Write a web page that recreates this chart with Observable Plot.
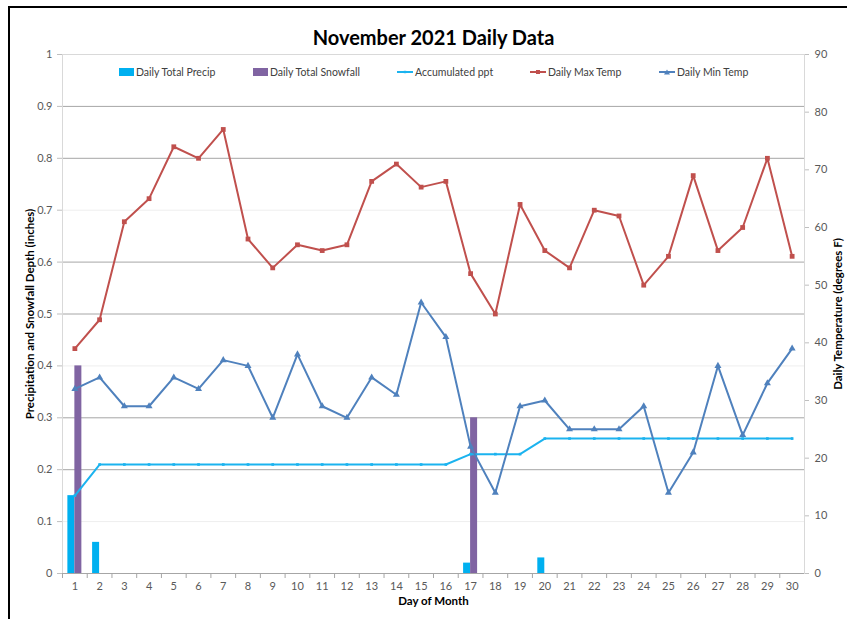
<!DOCTYPE html>
<html>
<head>
<meta charset="utf-8">
<script src="https://cdn.jsdelivr.net/npm/d3@7"></script>
<script src="https://cdn.jsdelivr.net/npm/@observablehq/plot@0.6"></script>
<style>
  html, body { margin: 0; padding: 0; background: #fff; overflow: hidden; }
  #wrap { position: relative; width: 847px; height: 619px; font-family: Lato, sans-serif; }
  #border { position: absolute; left: 8px; top: 6px; width: 900px; height: 700px; border: 2px solid #000; pointer-events: none; }
  #legend { position: absolute; top: 0; left: 0; width: 847px; height: 0; font-size: 10.5px; color: #404040; }
  .item { position: absolute; top: 65px; height: 14px; display: flex; align-items: center; white-space: nowrap; }
  .item svg { margin-right: 2px; }
</style>
</head>
<body>
<div id="wrap"><div id="chart"></div><div id="legend"></div><div id="border"></div></div>
<script>
// ---- data ----
const days = [1,2,3,4,5,6,7,8,9,10,11,12,13,14,15,16,17,18,19,20,21,22,23,24,25,26,27,28,29,30];
const precip = [0.15,0.06,0,0,0,0,0,0,0,0,0,0,0,0,0,0,0.02,0,0,0.03,0,0,0,0,0,0,0,0,0,0];
const snowfall = [0.40,0,0,0,0,0,0,0,0,0,0,0,0,0,0,0,0.30,0,0,0,0,0,0,0,0,0,0,0,0,0];
const accumPpt = [0.15,0.21,0.21,0.21,0.21,0.21,0.21,0.21,0.21,0.21,0.21,0.21,0.21,0.21,0.21,0.21,0.23,0.23,0.23,0.26,0.26,0.26,0.26,0.26,0.26,0.26,0.26,0.26,0.26,0.26];
const maxTemp = [39,44,61,65,74,72,77,58,53,57,56,57,68,71,67,68,52,45,64,56,53,63,62,50,55,69,56,60,72,55];
const minTemp = [32,34,29,29,34,32,37,36,27,38,29,27,34,31,47,41,22,14,29,30,25,25,25,29,14,21,36,24,33,39];
const leftTicks = [0,0.1,0.2,0.3,0.4,0.5,0.6,0.7,0.8,0.9,1];
const tempTicks = [0,10,20,30,40,50,60,70,80,90];
const tempMax = 90;
const seriesNames = ["Daily Total Precip","Daily Total Snowfall","Accumulated ppt","Daily Max Temp","Daily Min Temp"];
const title = "November 2021 Daily Data";
const xTitle = "Day of Month";
const yLeftTitle = "Precipitation and Snowfall Depth (inches)";
const yRightTitle = "Daily Temperature (degrees F)";

// ---- colors / layout ----
const cPrecip = "#00B0F0", cSnow = "#8064A2", cAccum = "#1BB3EF", cMax = "#C0504D", cMin = "#4F81BD";
const W = 847, H = 619, mL = 62, mR = 43, mT = 54, mB = 46;
const bw = (W - mL - mR) / days.length;
const barW = 7;

const rows = days.map((d, i) => ({
  day: d, precip: precip[i], snow: snowfall[i], accum: accumPpt[i],
  tmax: maxTemp[i] / tempMax, tmin: minTemp[i] / tempMax
}));
const faint = new Set([0.1, 0.4, 0.7]);

const chart = Plot.plot({
  width: W, height: H,
  marginLeft: mL, marginRight: mR, marginTop: mT, marginBottom: mB,
  style: { fontFamily: "Lato, sans-serif", fontSize: "11px", color: "#595959", background: "transparent", overflow: "visible" },
  x: { type: "band", domain: days, padding: 0, round: false },
  y: { domain: [0, 1] },
  marks: [
    Plot.ruleY(leftTicks.filter(t => t > 0 && t < 1), { stroke: d => faint.has(d) ? "#eeeeee" : "#a6a6a6", strokeWidth: 1 }),
    Plot.frame({ stroke: "#d9d9d9" }),
    Plot.ruleY([0], { stroke: "#a6a6a6" }),
    // axes
    Plot.axisY(leftTicks, { anchor: "left", tickSize: 5, tickPadding: 5, stroke: "#bfbfbf", fill: "#595959", fontSize: 11, label: null, tickFormat: d => String(+d.toFixed(1)) }),
    Plot.axisY(tempTicks.map(t => t / tempMax), { anchor: "right", tickSize: 4, tickPadding: 6, stroke: "#bfbfbf", fill: "#595959", fontSize: 11, label: null, tickFormat: d => String(Math.round(d * tempMax)) }),
    Plot.axisX(days, { anchor: "bottom", tickSize: 5, dx: -bw / 2, stroke: "#a6a6a6", label: null, tickFormat: () => "" }),
    Plot.axisX(days, { anchor: "bottom", tickSize: 0, tickPadding: 9, fill: "#595959", fontSize: 11, label: null }),
    // bars
    Plot.barY(rows.filter(d => d.precip > 0), { x: "day", y: "precip", fill: cPrecip, insetLeft: bw / 2 - barW, insetRight: bw / 2 }),
    Plot.barY(rows.filter(d => d.snow > 0), { x: "day", y: "snow", fill: cSnow, insetLeft: bw / 2, insetRight: bw / 2 - barW }),
    // lines
    Plot.line(rows, { x: "day", y: "accum", stroke: cAccum, strokeWidth: 2 }),
    Plot.dot(rows, { x: "day", y: "accum", symbol: "square", r: 1.5, fill: cAccum }),
    Plot.line(rows, { x: "day", y: "tmax", stroke: cMax, strokeWidth: 2 }),
    Plot.dot(rows, { x: "day", y: "tmax", symbol: "square", r: 2.7, fill: cMax }),
    Plot.line(rows, { x: "day", y: "tmin", stroke: cMin, strokeWidth: 2 }),
    Plot.dot(rows, { x: "day", y: "tmin", symbol: "triangle", r: 2.6, fill: cMin }),
    // titles
    Plot.text([title], { frameAnchor: "top", dy: -24, fontSize: 20, fontWeight: "bold", fill: "#000" }),
    Plot.text([xTitle], { frameAnchor: "bottom", dy: 31, fontSize: 11.5, fontWeight: "bold", fill: "#000" }),
    Plot.text([yLeftTitle], { frameAnchor: "left", textAnchor: "middle", dx: -32, rotate: -90, fontSize: 11.5, fontWeight: "bold", fill: "#000" }),
    Plot.text([yRightTitle], { frameAnchor: "right", textAnchor: "middle", dx: 34, rotate: -90, fontSize: 11.5, fontWeight: "bold", fill: "#000" })
  ]
});
document.getElementById("chart").appendChild(chart);

// ---- legend ----
const legendX = [119, 253, 397, 530, 659];
const legendKinds = [
  { type: "bar", color: cPrecip },
  { type: "bar", color: cSnow },
  { type: "line", color: cAccum, sym: "small" },
  { type: "line", color: cMax, sym: "sq" },
  { type: "line", color: cMin, sym: "tri" }
];
const legend = document.getElementById("legend");
seriesNames.forEach((name, i) => {
  const k = legendKinds[i];
  const item = document.createElement("div");
  item.className = "item";
  item.style.left = legendX[i] + "px";
  let sw;
  if (k.type === "bar") {
    sw = `<svg width="15" height="14"><rect x="0" y="3" width="15" height="8" fill="${k.color}"/></svg>`;
  } else {
    let m;
    if (k.sym === "tri") m = `<path d="M8,4.5 L11,9.5 L5,9.5 Z" fill="${k.color}"/>`;
    else if (k.sym === "sq") m = `<rect x="6" y="5" width="4" height="4" fill="${k.color}"/>`;
    else m = `<rect x="6.8" y="5.8" width="2.4" height="2.4" fill="${k.color}"/>`;
    sw = `<svg width="16" height="14"><line x1="0" y1="7" x2="16" y2="7" stroke="${k.color}" stroke-width="2"/>${m}</svg>`;
  }
  item.innerHTML = sw + `<span>${name}</span>`;
  legend.appendChild(item);
});
</script>
</body>
</html>
